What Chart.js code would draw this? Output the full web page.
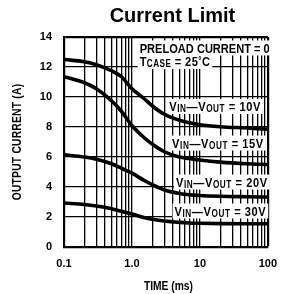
<!DOCTYPE html>
<html><head><meta charset="utf-8">
<script src="https://cdn.jsdelivr.net/npm/chart.js@4/dist/chart.umd.min.js"></script>
<style>html,body{margin:0;padding:0;background:#fff}#wrap{width:287px;height:294px}</style>
</head><body><div id="wrap"><canvas id="c" width="287" height="294"></canvas></div>
<script>
// ---- data ----
const timeMs     = [0.1, 0.2, 0.3, 0.5, 0.7, 1.0, 1.5, 2, 3, 5, 7, 10, 20, 50, 100];
const current10V = [12.5, 12.35, 12.15, 11.75, 11.35, 10.55, 9.9, 9.4, 8.85, 8.45, 8.28, 8.15, 8.02, 7.93, 7.85];
const current15V = [11.35, 10.95, 10.55, 9.75, 9.05, 8.1, 7.3, 6.85, 6.35, 6.0, 5.9, 5.8, 5.66, 5.55, 5.5];
const current20V = [6.15, 6.0, 5.85, 5.55, 5.25, 4.92, 4.45, 4.15, 3.8, 3.57, 3.48, 3.43, 3.38, 3.35, 3.33];
const current30V = [2.93, 2.83, 2.73, 2.55, 2.38, 2.2, 1.97, 1.85, 1.73, 1.64, 1.6, 1.58, 1.56, 1.55, 1.55];
const seriesLabels = ['10V', '15V', '20V', '30V'];
const yTicks = [0, 2, 4, 6, 8, 10, 12, 14];
const xGridValues = [0.1,0.2,0.3,0.4,0.5,0.6,0.7,0.8,0.9,1,2,3,4,5,6,7,8,9,10,20,30,40,50,60,70,80,90,100];
const xTickValues = [0.1, 1, 10, 100];
const xTickText   = ['0.1', '1.0', '10', '100'];
const chartTitle = 'Current Limit';
const xTitle = 'TIME (ms)';
const yTitle = 'OUTPUT CURRENT (A)';

const SANS = "'Liberation Sans',Arial,sans-serif";
const SX = 0.82; // horizontal compression to imitate a condensed face

const series = [current10V, current15V, current20V, current30V];
const datasets = series.map((arr, i) => ({
  label: seriesLabels[i],
  data: timeMs.map((t, j) => ({x: t, y: arr[j]})),
  borderColor: '#000', borderWidth: 3.6, pointRadius: 0,
  cubicInterpolationMode: 'monotone', fill: false
}));

function vRuns(lbl){
  return [{t:'V'},{t:'IN',s:1},{t:'\u2014'},{t:'V'},{t:'OUT',s:1},{t:' = ' + lbl}];
}
const notes = [
  {t:1.3,  v:13.27, ls:0,   runs:[{t:'PRELOAD CURRENT = 0'}]},
  {t:1.3,  v:12.37, ls:0.5, runs:[{t:'T'},{t:'CASE',s:1},{t:' = 25'},{t:'\u00B0',s:1,dy:-3},{t:'C'}]},
  {t:3.54, v:9.37,  ls:0.7, runs:vRuns(seriesLabels[0])},
  {t:3.9,  v:6.93,  ls:0.7, runs:vRuns(seriesLabels[1])},
  {t:4.45, v:4.33,  ls:0.7, runs:vRuns(seriesLabels[2])},
  {t:4.24, v:2.4,   ls:0.7, runs:vRuns(seriesLabels[3])}
];

function runFont(r){ return 'bold ' + (r.s ? 10 : 13.5) + 'px ' + SANS; }

const notePlugin = {
  id: 'notes',
  beforeDatasetsDraw(chart){
    const {ctx, scales:{x, y}} = chart;
    notes.forEach(n => {
      const px = x.getPixelForValue(n.t), py = y.getPixelForValue(n.v);
      ctx.save();
      ctx.letterSpacing = n.ls + 'px';
      let w = 0;
      n.runs.forEach(r => { ctx.font = runFont(r); r.w = ctx.measureText(r.t).width; w += r.w; });
      ctx.fillStyle = '#fff';
      ctx.fillRect(px - 2, py - 7.5, w * SX + 4, 15);
      ctx.translate(px, py);
      ctx.scale(SX, 1);
      ctx.fillStyle = '#000';
      ctx.textBaseline = 'alphabetic';
      let cx = 0;
      n.runs.forEach(r => {
        ctx.font = runFont(r);
        ctx.fillText(r.t, cx, 5 + (r.s ? 1 : 0) + (r.dy || 0));
        cx += r.w;
      });
      ctx.restore();
    });
  },
  afterDraw(chart){
    const {ctx, chartArea:a} = chart;
    ctx.save();
    ctx.fillStyle = '#000';
    ctx.textAlign = 'center';
    ctx.textBaseline = 'alphabetic';
    ctx.font = 'bold 20px ' + SANS;
    ctx.fillText(chartTitle, (a.left + a.right) / 2 + 6.5, 22);
    ctx.restore();

    ctx.save();
    ctx.fillStyle = '#000';
    ctx.textAlign = 'center';
    ctx.textBaseline = 'alphabetic';
    ctx.font = 'bold 12.5px ' + SANS;
    ctx.translate((a.left + a.right) / 2 + 2.5, 290);
    ctx.scale(SX, 1);
    ctx.fillText(xTitle, 0, 0);
    ctx.restore();

    ctx.save();
    ctx.fillStyle = '#000';
    ctx.textAlign = 'center';
    ctx.textBaseline = 'middle';
    ctx.font = 'bold 12.5px ' + SANS;
    ctx.letterSpacing = '0.3px';
    ctx.translate(17.5, (a.top + a.bottom) / 2);
    ctx.rotate(-Math.PI / 2);
    ctx.scale(SX, 1);
    ctx.fillText(yTitle, 0, 0);
    ctx.restore();
  }
};

new Chart(document.getElementById('c'), {
  type: 'line',
  data: { datasets },
  options: {
    responsive: false, animation: false, devicePixelRatio: 1,
    layout: { padding: { top: 37, right: 10, left: 0, bottom: 0 } },
    plugins: { legend: {display: false}, tooltip: {enabled: false}, title: {display: false} },
    scales: {
      x: {
        type: 'logarithmic', min: 0.1, max: 100,
        afterBuildTicks: s => { s.ticks = xGridValues.map(v => ({value: v})); },
        afterFit: s => { s.height = 47; },
        ticks: {
          autoSkip: false, maxRotation: 0, color: '#000', padding: 10,
          font: {family: SANS, size: 11, weight: 'bold'},
          callback: v => { const i = xTickValues.findIndex(t => Math.abs(t - v) / t < 1e-6); return i >= 0 ? xTickText[i] : ''; }
        },
        grid: { color: '#000', drawTicks: false, lineWidth: c => (c.tick && Math.abs(c.tick.value - 100) < 1e-6) ? 2.2 : 1.3 },
        border: { color: '#000', width: 2.2 }
      },
      y: {
        type: 'linear', min: 0, max: 14,
        afterBuildTicks: s => { s.ticks = yTicks.map(v => ({value: v})); },
        afterFit: s => { s.width = 64; },
        ticks: { color: '#000', padding: 12, font: {family: SANS, size: 11, weight: 'bold'}, callback: v => String(v) },
        grid: { color: '#000', drawTicks: false, lineWidth: c => (c.tick && c.tick.value === 14) ? 2.2 : 1.3 },
        border: { color: '#000', width: 2.2 }
      }
    }
  },
  plugins: [notePlugin]
});
</script></body></html>
